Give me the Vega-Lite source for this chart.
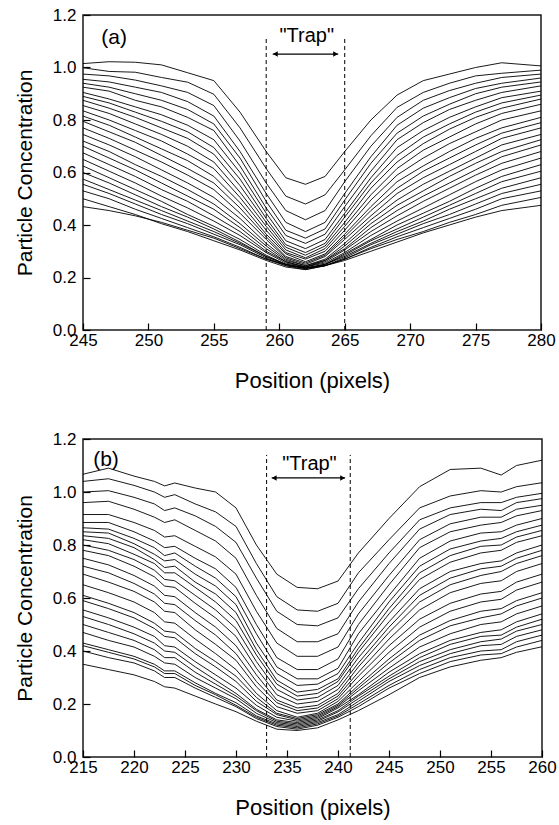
{
"$schema":"https://vega.github.io/schema/vega-lite/v6.json",
"background":"white",
"padding":{"left":13,"top":5,"right":2,"bottom":5},
"config":{"font":"Liberation Sans","view":{"stroke":"#1a1a1a","strokeWidth":1.5},
"axis":{"domain":false,"grid":false,"tickColor":"black","tickWidth":1.2,"labelColor":"black","labelFontSize":17,"labelFont":"Liberation Sans","titleFont":"Liberation Sans","titleFontSize":21,"titleFontWeight":"normal","titleColor":"black","labelFlush":false,"labelOverlap":false}},
"datasets":{
"a":[
{"c":1,"x":245,"y":1.015},{"c":1,"x":247,"y":1.022},{"c":1,"x":249,"y":1.02},{"c":1,"x":251,"y":1.01},{"c":1,"x":253,"y":0.98},{"c":1,"x":255,"y":0.95},{"c":1,"x":257,"y":0.83},{"c":1,"x":259,"y":0.68},{"c":1,"x":260.5,"y":0.58},{"c":1,"x":262,"y":0.555},{"c":1,"x":263.5,"y":0.585},{"c":1,"x":265,"y":0.68},{"c":1,"x":267,"y":0.8},{"c":1,"x":269,"y":0.895},{"c":1,"x":271,"y":0.95},{"c":1,"x":273,"y":0.975},{"c":1,"x":275,"y":1.0},{"c":1,"x":277,"y":1.018},{"c":1,"x":280,"y":1.006},
{"c":2,"x":245,"y":0.999},{"c":2,"x":247,"y":0.985},{"c":2,"x":249,"y":0.982},{"c":2,"x":251,"y":0.962},{"c":2,"x":253,"y":0.944},{"c":2,"x":255,"y":0.898},{"c":2,"x":257,"y":0.77},{"c":2,"x":259,"y":0.615},{"c":2,"x":260.5,"y":0.51},{"c":2,"x":262,"y":0.48},{"c":2,"x":263.5,"y":0.515},{"c":2,"x":265,"y":0.61},{"c":2,"x":267,"y":0.74},{"c":2,"x":269,"y":0.848},{"c":2,"x":271,"y":0.905},{"c":2,"x":273,"y":0.94},{"c":2,"x":275,"y":0.968},{"c":2,"x":277,"y":0.978},{"c":2,"x":280,"y":0.99},
{"c":3,"x":245,"y":0.975},{"c":3,"x":247,"y":0.968},{"c":3,"x":249,"y":0.952},{"c":3,"x":251,"y":0.93},{"c":3,"x":253,"y":0.905},{"c":3,"x":255,"y":0.855},{"c":3,"x":257,"y":0.72},{"c":3,"x":259,"y":0.56},{"c":3,"x":260.5,"y":0.455},{"c":3,"x":262,"y":0.42},{"c":3,"x":263.5,"y":0.455},{"c":3,"x":265,"y":0.565},{"c":3,"x":267,"y":0.7},{"c":3,"x":269,"y":0.81},{"c":3,"x":271,"y":0.875},{"c":3,"x":273,"y":0.912},{"c":3,"x":275,"y":0.94},{"c":3,"x":277,"y":0.962},{"c":3,"x":280,"y":0.975},
{"c":4,"x":245,"y":0.955},{"c":4,"x":247,"y":0.945},{"c":4,"x":249,"y":0.925},{"c":4,"x":251,"y":0.905},{"c":4,"x":253,"y":0.87},{"c":4,"x":255,"y":0.815},{"c":4,"x":257,"y":0.68},{"c":4,"x":259,"y":0.52},{"c":4,"x":260.5,"y":0.41},{"c":4,"x":262,"y":0.375},{"c":4,"x":263.5,"y":0.41},{"c":4,"x":265,"y":0.52},{"c":4,"x":267,"y":0.66},{"c":4,"x":269,"y":0.78},{"c":4,"x":271,"y":0.845},{"c":4,"x":273,"y":0.885},{"c":4,"x":275,"y":0.92},{"c":4,"x":277,"y":0.94},{"c":4,"x":280,"y":0.96},
{"c":5,"x":245,"y":0.94},{"c":5,"x":247,"y":0.925},{"c":5,"x":249,"y":0.9},{"c":5,"x":251,"y":0.875},{"c":5,"x":253,"y":0.84},{"c":5,"x":255,"y":0.785},{"c":5,"x":257,"y":0.655},{"c":5,"x":259,"y":0.49},{"c":5,"x":260.5,"y":0.38},{"c":5,"x":262,"y":0.35},{"c":5,"x":263.5,"y":0.385},{"c":5,"x":265,"y":0.495},{"c":5,"x":267,"y":0.635},{"c":5,"x":269,"y":0.75},{"c":5,"x":271,"y":0.815},{"c":5,"x":273,"y":0.86},{"c":5,"x":275,"y":0.9},{"c":5,"x":277,"y":0.925},{"c":5,"x":280,"y":0.945},
{"c":6,"x":245,"y":0.925},{"c":6,"x":247,"y":0.91},{"c":6,"x":249,"y":0.875},{"c":6,"x":251,"y":0.85},{"c":6,"x":253,"y":0.81},{"c":6,"x":255,"y":0.76},{"c":6,"x":257,"y":0.625},{"c":6,"x":259,"y":0.465},{"c":6,"x":260.5,"y":0.36},{"c":6,"x":262,"y":0.33},{"c":6,"x":263.5,"y":0.365},{"c":6,"x":265,"y":0.47},{"c":6,"x":267,"y":0.605},{"c":6,"x":269,"y":0.725},{"c":6,"x":271,"y":0.79},{"c":6,"x":273,"y":0.84},{"c":6,"x":275,"y":0.875},{"c":6,"x":277,"y":0.905},{"c":6,"x":280,"y":0.93},
{"c":7,"x":245,"y":0.905},{"c":7,"x":247,"y":0.88},{"c":7,"x":249,"y":0.85},{"c":7,"x":251,"y":0.82},{"c":7,"x":253,"y":0.78},{"c":7,"x":255,"y":0.725},{"c":7,"x":257,"y":0.6},{"c":7,"x":259,"y":0.445},{"c":7,"x":260.5,"y":0.34},{"c":7,"x":262,"y":0.31},{"c":7,"x":263.5,"y":0.345},{"c":7,"x":265,"y":0.445},{"c":7,"x":267,"y":0.58},{"c":7,"x":269,"y":0.695},{"c":7,"x":271,"y":0.76},{"c":7,"x":273,"y":0.81},{"c":7,"x":275,"y":0.85},{"c":7,"x":277,"y":0.885},{"c":7,"x":280,"y":0.91},
{"c":8,"x":245,"y":0.89},{"c":8,"x":247,"y":0.865},{"c":8,"x":249,"y":0.83},{"c":8,"x":251,"y":0.795},{"c":8,"x":253,"y":0.755},{"c":8,"x":255,"y":0.695},{"c":8,"x":257,"y":0.575},{"c":8,"x":259,"y":0.425},{"c":8,"x":260.5,"y":0.325},{"c":8,"x":262,"y":0.295},{"c":8,"x":263.5,"y":0.33},{"c":8,"x":265,"y":0.43},{"c":8,"x":267,"y":0.56},{"c":8,"x":269,"y":0.665},{"c":8,"x":271,"y":0.735},{"c":8,"x":273,"y":0.785},{"c":8,"x":275,"y":0.83},{"c":8,"x":277,"y":0.865},{"c":8,"x":280,"y":0.895},
{"c":9,"x":245,"y":0.875},{"c":9,"x":247,"y":0.845},{"c":9,"x":249,"y":0.81},{"c":9,"x":251,"y":0.77},{"c":9,"x":253,"y":0.73},{"c":9,"x":255,"y":0.67},{"c":9,"x":257,"y":0.55},{"c":9,"x":259,"y":0.41},{"c":9,"x":260.5,"y":0.315},{"c":9,"x":262,"y":0.285},{"c":9,"x":263.5,"y":0.32},{"c":9,"x":265,"y":0.41},{"c":9,"x":267,"y":0.54},{"c":9,"x":269,"y":0.64},{"c":9,"x":271,"y":0.71},{"c":9,"x":273,"y":0.765},{"c":9,"x":275,"y":0.81},{"c":9,"x":277,"y":0.845},{"c":9,"x":280,"y":0.88},
{"c":10,"x":245,"y":0.855},{"c":10,"x":247,"y":0.825},{"c":10,"x":249,"y":0.785},{"c":10,"x":251,"y":0.745},{"c":10,"x":253,"y":0.7},{"c":10,"x":255,"y":0.64},{"c":10,"x":257,"y":0.525},{"c":10,"x":259,"y":0.395},{"c":10,"x":260.5,"y":0.305},{"c":10,"x":262,"y":0.275},{"c":10,"x":263.5,"y":0.31},{"c":10,"x":265,"y":0.395},{"c":10,"x":267,"y":0.515},{"c":10,"x":269,"y":0.615},{"c":10,"x":271,"y":0.685},{"c":10,"x":273,"y":0.735},{"c":10,"x":275,"y":0.785},{"c":10,"x":277,"y":0.825},{"c":10,"x":280,"y":0.86},
{"c":11,"x":245,"y":0.835},{"c":11,"x":247,"y":0.8},{"c":11,"x":249,"y":0.76},{"c":11,"x":251,"y":0.72},{"c":11,"x":253,"y":0.67},{"c":11,"x":255,"y":0.615},{"c":11,"x":257,"y":0.505},{"c":11,"x":259,"y":0.38},{"c":11,"x":260.5,"y":0.295},{"c":11,"x":262,"y":0.27},{"c":11,"x":263.5,"y":0.3},{"c":11,"x":265,"y":0.38},{"c":11,"x":267,"y":0.495},{"c":11,"x":269,"y":0.59},{"c":11,"x":271,"y":0.655},{"c":11,"x":273,"y":0.71},{"c":11,"x":275,"y":0.755},{"c":11,"x":277,"y":0.8},{"c":11,"x":280,"y":0.835},
{"c":12,"x":245,"y":0.815},{"c":12,"x":247,"y":0.78},{"c":12,"x":249,"y":0.735},{"c":12,"x":251,"y":0.69},{"c":12,"x":253,"y":0.645},{"c":12,"x":255,"y":0.585},{"c":12,"x":257,"y":0.485},{"c":12,"x":259,"y":0.365},{"c":12,"x":260.5,"y":0.29},{"c":12,"x":262,"y":0.26},{"c":12,"x":263.5,"y":0.29},{"c":12,"x":265,"y":0.365},{"c":12,"x":267,"y":0.47},{"c":12,"x":269,"y":0.565},{"c":12,"x":271,"y":0.625},{"c":12,"x":273,"y":0.68},{"c":12,"x":275,"y":0.73},{"c":12,"x":277,"y":0.77},{"c":12,"x":280,"y":0.81},
{"c":13,"x":245,"y":0.795},{"c":13,"x":247,"y":0.755},{"c":13,"x":249,"y":0.715},{"c":13,"x":251,"y":0.665},{"c":13,"x":253,"y":0.615},{"c":13,"x":255,"y":0.56},{"c":13,"x":257,"y":0.465},{"c":13,"x":259,"y":0.355},{"c":13,"x":260.5,"y":0.28},{"c":13,"x":262,"y":0.255},{"c":13,"x":263.5,"y":0.285},{"c":13,"x":265,"y":0.355},{"c":13,"x":267,"y":0.455},{"c":13,"x":269,"y":0.54},{"c":13,"x":271,"y":0.605},{"c":13,"x":273,"y":0.655},{"c":13,"x":275,"y":0.705},{"c":13,"x":277,"y":0.75},{"c":13,"x":280,"y":0.79},
{"c":14,"x":245,"y":0.77},{"c":14,"x":247,"y":0.73},{"c":14,"x":249,"y":0.685},{"c":14,"x":251,"y":0.64},{"c":14,"x":253,"y":0.59},{"c":14,"x":255,"y":0.535},{"c":14,"x":257,"y":0.445},{"c":14,"x":259,"y":0.345},{"c":14,"x":260.5,"y":0.275},{"c":14,"x":262,"y":0.25},{"c":14,"x":263.5,"y":0.28},{"c":14,"x":265,"y":0.345},{"c":14,"x":267,"y":0.435},{"c":14,"x":269,"y":0.52},{"c":14,"x":271,"y":0.58},{"c":14,"x":273,"y":0.63},{"c":14,"x":275,"y":0.68},{"c":14,"x":277,"y":0.73},{"c":14,"x":280,"y":0.77},
{"c":15,"x":245,"y":0.745},{"c":15,"x":247,"y":0.705},{"c":15,"x":249,"y":0.66},{"c":15,"x":251,"y":0.61},{"c":15,"x":253,"y":0.56},{"c":15,"x":255,"y":0.505},{"c":15,"x":257,"y":0.425},{"c":15,"x":259,"y":0.33},{"c":15,"x":260.5,"y":0.27},{"c":15,"x":262,"y":0.245},{"c":15,"x":263.5,"y":0.27},{"c":15,"x":265,"y":0.33},{"c":15,"x":267,"y":0.42},{"c":15,"x":269,"y":0.495},{"c":15,"x":271,"y":0.555},{"c":15,"x":273,"y":0.605},{"c":15,"x":275,"y":0.655},{"c":15,"x":277,"y":0.705},{"c":15,"x":280,"y":0.745},
{"c":16,"x":245,"y":0.72},{"c":16,"x":247,"y":0.68},{"c":16,"x":249,"y":0.63},{"c":16,"x":251,"y":0.585},{"c":16,"x":253,"y":0.535},{"c":16,"x":255,"y":0.48},{"c":16,"x":257,"y":0.405},{"c":16,"x":259,"y":0.32},{"c":16,"x":260.5,"y":0.265},{"c":16,"x":262,"y":0.245},{"c":16,"x":263.5,"y":0.265},{"c":16,"x":265,"y":0.32},{"c":16,"x":267,"y":0.405},{"c":16,"x":269,"y":0.475},{"c":16,"x":271,"y":0.53},{"c":16,"x":273,"y":0.585},{"c":16,"x":275,"y":0.635},{"c":16,"x":277,"y":0.68},{"c":16,"x":280,"y":0.725},
{"c":17,"x":245,"y":0.7},{"c":17,"x":247,"y":0.655},{"c":17,"x":249,"y":0.61},{"c":17,"x":251,"y":0.56},{"c":17,"x":253,"y":0.51},{"c":17,"x":255,"y":0.46},{"c":17,"x":257,"y":0.39},{"c":17,"x":259,"y":0.31},{"c":17,"x":260.5,"y":0.26},{"c":17,"x":262,"y":0.24},{"c":17,"x":263.5,"y":0.265},{"c":17,"x":265,"y":0.31},{"c":17,"x":267,"y":0.39},{"c":17,"x":269,"y":0.455},{"c":17,"x":271,"y":0.51},{"c":17,"x":273,"y":0.56},{"c":17,"x":275,"y":0.61},{"c":17,"x":277,"y":0.66},{"c":17,"x":280,"y":0.705},
{"c":18,"x":245,"y":0.675},{"c":18,"x":247,"y":0.63},{"c":18,"x":249,"y":0.585},{"c":18,"x":251,"y":0.535},{"c":18,"x":253,"y":0.49},{"c":18,"x":255,"y":0.435},{"c":18,"x":257,"y":0.375},{"c":18,"x":259,"y":0.3},{"c":18,"x":260.5,"y":0.26},{"c":18,"x":262,"y":0.24},{"c":18,"x":263.5,"y":0.26},{"c":18,"x":265,"y":0.305},{"c":18,"x":267,"y":0.375},{"c":18,"x":269,"y":0.435},{"c":18,"x":271,"y":0.49},{"c":18,"x":273,"y":0.54},{"c":18,"x":275,"y":0.59},{"c":18,"x":277,"y":0.635},{"c":18,"x":280,"y":0.68},
{"c":19,"x":245,"y":0.65},{"c":19,"x":247,"y":0.605},{"c":19,"x":249,"y":0.56},{"c":19,"x":251,"y":0.51},{"c":19,"x":253,"y":0.465},{"c":19,"x":255,"y":0.415},{"c":19,"x":257,"y":0.36},{"c":19,"x":259,"y":0.295},{"c":19,"x":260.5,"y":0.255},{"c":19,"x":262,"y":0.24},{"c":19,"x":263.5,"y":0.255},{"c":19,"x":265,"y":0.295},{"c":19,"x":267,"y":0.36},{"c":19,"x":269,"y":0.415},{"c":19,"x":271,"y":0.465},{"c":19,"x":273,"y":0.515},{"c":19,"x":275,"y":0.565},{"c":19,"x":277,"y":0.61},{"c":19,"x":280,"y":0.655},
{"c":20,"x":245,"y":0.625},{"c":20,"x":247,"y":0.58},{"c":20,"x":249,"y":0.535},{"c":20,"x":251,"y":0.49},{"c":20,"x":253,"y":0.44},{"c":20,"x":255,"y":0.395},{"c":20,"x":257,"y":0.345},{"c":20,"x":259,"y":0.285},{"c":20,"x":260.5,"y":0.25},{"c":20,"x":262,"y":0.235},{"c":20,"x":263.5,"y":0.25},{"c":20,"x":265,"y":0.29},{"c":20,"x":267,"y":0.345},{"c":20,"x":269,"y":0.4},{"c":20,"x":271,"y":0.445},{"c":20,"x":273,"y":0.49},{"c":20,"x":275,"y":0.54},{"c":20,"x":277,"y":0.585},{"c":20,"x":280,"y":0.63},
{"c":21,"x":245,"y":0.6},{"c":21,"x":247,"y":0.56},{"c":21,"x":249,"y":0.515},{"c":21,"x":251,"y":0.47},{"c":21,"x":253,"y":0.43},{"c":21,"x":255,"y":0.385},{"c":21,"x":257,"y":0.335},{"c":21,"x":259,"y":0.28},{"c":21,"x":260.5,"y":0.25},{"c":21,"x":262,"y":0.235},{"c":21,"x":263.5,"y":0.25},{"c":21,"x":265,"y":0.285},{"c":21,"x":267,"y":0.34},{"c":21,"x":269,"y":0.385},{"c":21,"x":271,"y":0.43},{"c":21,"x":273,"y":0.475},{"c":21,"x":275,"y":0.52},{"c":21,"x":277,"y":0.565},{"c":21,"x":280,"y":0.605},
{"c":22,"x":245,"y":0.575},{"c":22,"x":247,"y":0.535},{"c":22,"x":249,"y":0.495},{"c":22,"x":251,"y":0.455},{"c":22,"x":253,"y":0.415},{"c":22,"x":255,"y":0.375},{"c":22,"x":257,"y":0.33},{"c":22,"x":259,"y":0.28},{"c":22,"x":260.5,"y":0.25},{"c":22,"x":262,"y":0.235},{"c":22,"x":263.5,"y":0.25},{"c":22,"x":265,"y":0.28},{"c":22,"x":267,"y":0.33},{"c":22,"x":269,"y":0.375},{"c":22,"x":271,"y":0.415},{"c":22,"x":273,"y":0.46},{"c":22,"x":275,"y":0.5},{"c":22,"x":277,"y":0.54},{"c":22,"x":280,"y":0.58},
{"c":23,"x":245,"y":0.555},{"c":23,"x":247,"y":0.52},{"c":23,"x":249,"y":0.48},{"c":23,"x":251,"y":0.44},{"c":23,"x":253,"y":0.405},{"c":23,"x":255,"y":0.365},{"c":23,"x":257,"y":0.325},{"c":23,"x":259,"y":0.275},{"c":23,"x":260.5,"y":0.245},{"c":23,"x":262,"y":0.235},{"c":23,"x":263.5,"y":0.245},{"c":23,"x":265,"y":0.275},{"c":23,"x":267,"y":0.325},{"c":23,"x":269,"y":0.365},{"c":23,"x":271,"y":0.405},{"c":23,"x":273,"y":0.44},{"c":23,"x":275,"y":0.48},{"c":23,"x":277,"y":0.52},{"c":23,"x":280,"y":0.555},
{"c":24,"x":245,"y":0.53},{"c":24,"x":247,"y":0.5},{"c":24,"x":249,"y":0.46},{"c":24,"x":251,"y":0.425},{"c":24,"x":253,"y":0.39},{"c":24,"x":255,"y":0.355},{"c":24,"x":257,"y":0.315},{"c":24,"x":259,"y":0.27},{"c":24,"x":260.5,"y":0.245},{"c":24,"x":262,"y":0.23},{"c":24,"x":263.5,"y":0.245},{"c":24,"x":265,"y":0.27},{"c":24,"x":267,"y":0.315},{"c":24,"x":269,"y":0.355},{"c":24,"x":271,"y":0.39},{"c":24,"x":273,"y":0.425},{"c":24,"x":275,"y":0.46},{"c":24,"x":277,"y":0.5},{"c":24,"x":280,"y":0.53},
{"c":25,"x":245,"y":0.5},{"c":25,"x":247,"y":0.47},{"c":25,"x":249,"y":0.44},{"c":25,"x":251,"y":0.405},{"c":25,"x":253,"y":0.375},{"c":25,"x":255,"y":0.34},{"c":25,"x":257,"y":0.305},{"c":25,"x":259,"y":0.265},{"c":25,"x":260.5,"y":0.24},{"c":25,"x":262,"y":0.23},{"c":25,"x":263.5,"y":0.245},{"c":25,"x":265,"y":0.27},{"c":25,"x":267,"y":0.31},{"c":25,"x":269,"y":0.345},{"c":25,"x":271,"y":0.375},{"c":25,"x":273,"y":0.41},{"c":25,"x":275,"y":0.44},{"c":25,"x":277,"y":0.475},{"c":25,"x":280,"y":0.505},
{"c":26,"x":245,"y":0.47},{"c":26,"x":247,"y":0.455},{"c":26,"x":249,"y":0.435},{"c":26,"x":251,"y":0.41},{"c":26,"x":253,"y":0.38},{"c":26,"x":255,"y":0.35},{"c":26,"x":257,"y":0.31},{"c":26,"x":259,"y":0.27},{"c":26,"x":260.5,"y":0.25},{"c":26,"x":262,"y":0.238},{"c":26,"x":263.5,"y":0.245},{"c":26,"x":265,"y":0.265},{"c":26,"x":267,"y":0.3},{"c":26,"x":269,"y":0.335},{"c":26,"x":271,"y":0.37},{"c":26,"x":273,"y":0.4},{"c":26,"x":275,"y":0.43},{"c":26,"x":277,"y":0.455},{"c":26,"x":280,"y":0.475}
],
"b":[
{"c":1,"x":215,"y":1.067},{"c":1,"x":217.5,"y":1.09},{"c":1,"x":220,"y":1.06},{"c":1,"x":222,"y":1.04},{"c":1,"x":223,"y":1.023},{"c":1,"x":224,"y":1.034},{"c":1,"x":226,"y":1.015},{"c":1,"x":228,"y":1.0},{"c":1,"x":230,"y":0.94},{"c":1,"x":232,"y":0.8},{"c":1,"x":234,"y":0.69},{"c":1,"x":236,"y":0.64},{"c":1,"x":238,"y":0.635},{"c":1,"x":240,"y":0.664},{"c":1,"x":242,"y":0.77},{"c":1,"x":245,"y":0.9},{"c":1,"x":248,"y":1.02},{"c":1,"x":251,"y":1.085},{"c":1,"x":254,"y":1.09},{"c":1,"x":256,"y":1.064},{"c":1,"x":257.5,"y":1.1},{"c":1,"x":260,"y":1.12},
{"c":2,"x":215,"y":1.04},{"c":2,"x":217.5,"y":1.05},{"c":2,"x":220,"y":1.025},{"c":2,"x":222,"y":1.0},{"c":2,"x":223,"y":0.98},{"c":2,"x":224,"y":0.99},{"c":2,"x":226,"y":0.955},{"c":2,"x":228,"y":0.925},{"c":2,"x":230,"y":0.87},{"c":2,"x":232,"y":0.73},{"c":2,"x":234,"y":0.605},{"c":2,"x":236,"y":0.555},{"c":2,"x":238,"y":0.55},{"c":2,"x":240,"y":0.58},{"c":2,"x":242,"y":0.695},{"c":2,"x":245,"y":0.82},{"c":2,"x":248,"y":0.94},{"c":2,"x":251,"y":0.985},{"c":2,"x":254,"y":1.005},{"c":2,"x":256,"y":1.0},{"c":2,"x":257.5,"y":1.02},{"c":2,"x":260,"y":1.035},
{"c":3,"x":215,"y":1.0},{"c":3,"x":217.5,"y":1.005},{"c":3,"x":220,"y":0.98},{"c":3,"x":222,"y":0.955},{"c":3,"x":223,"y":0.93},{"c":3,"x":224,"y":0.94},{"c":3,"x":226,"y":0.91},{"c":3,"x":228,"y":0.87},{"c":3,"x":230,"y":0.81},{"c":3,"x":232,"y":0.675},{"c":3,"x":234,"y":0.55},{"c":3,"x":236,"y":0.5},{"c":3,"x":238,"y":0.495},{"c":3,"x":240,"y":0.525},{"c":3,"x":242,"y":0.635},{"c":3,"x":245,"y":0.77},{"c":3,"x":248,"y":0.895},{"c":3,"x":251,"y":0.94},{"c":3,"x":254,"y":0.96},{"c":3,"x":256,"y":0.96},{"c":3,"x":257.5,"y":0.98},{"c":3,"x":260,"y":0.995},
{"c":4,"x":215,"y":0.96},{"c":4,"x":217.5,"y":0.965},{"c":4,"x":220,"y":0.935},{"c":4,"x":222,"y":0.905},{"c":4,"x":223,"y":0.885},{"c":4,"x":224,"y":0.895},{"c":4,"x":226,"y":0.855},{"c":4,"x":228,"y":0.815},{"c":4,"x":230,"y":0.75},{"c":4,"x":232,"y":0.61},{"c":4,"x":234,"y":0.485},{"c":4,"x":236,"y":0.435},{"c":4,"x":238,"y":0.435},{"c":4,"x":240,"y":0.465},{"c":4,"x":242,"y":0.585},{"c":4,"x":245,"y":0.73},{"c":4,"x":248,"y":0.86},{"c":4,"x":251,"y":0.915},{"c":4,"x":254,"y":0.935},{"c":4,"x":256,"y":0.93},{"c":4,"x":257.5,"y":0.96},{"c":4,"x":260,"y":0.975},
{"c":5,"x":215,"y":0.915},{"c":5,"x":217.5,"y":0.915},{"c":5,"x":220,"y":0.885},{"c":5,"x":222,"y":0.855},{"c":5,"x":223,"y":0.83},{"c":5,"x":224,"y":0.835},{"c":5,"x":226,"y":0.795},{"c":5,"x":228,"y":0.755},{"c":5,"x":230,"y":0.69},{"c":5,"x":232,"y":0.55},{"c":5,"x":234,"y":0.43},{"c":5,"x":236,"y":0.38},{"c":5,"x":238,"y":0.38},{"c":5,"x":240,"y":0.415},{"c":5,"x":242,"y":0.54},{"c":5,"x":245,"y":0.685},{"c":5,"x":248,"y":0.82},{"c":5,"x":251,"y":0.88},{"c":5,"x":254,"y":0.905},{"c":5,"x":256,"y":0.905},{"c":5,"x":257.5,"y":0.935},{"c":5,"x":260,"y":0.95},
{"c":6,"x":215,"y":0.885},{"c":6,"x":217.5,"y":0.885},{"c":6,"x":220,"y":0.85},{"c":6,"x":222,"y":0.815},{"c":6,"x":223,"y":0.79},{"c":6,"x":224,"y":0.795},{"c":6,"x":226,"y":0.75},{"c":6,"x":228,"y":0.71},{"c":6,"x":230,"y":0.64},{"c":6,"x":232,"y":0.5},{"c":6,"x":234,"y":0.375},{"c":6,"x":236,"y":0.33},{"c":6,"x":238,"y":0.33},{"c":6,"x":240,"y":0.37},{"c":6,"x":242,"y":0.5},{"c":6,"x":245,"y":0.65},{"c":6,"x":248,"y":0.79},{"c":6,"x":251,"y":0.85},{"c":6,"x":254,"y":0.875},{"c":6,"x":256,"y":0.885},{"c":6,"x":257.5,"y":0.91},{"c":6,"x":260,"y":0.93},
{"c":7,"x":215,"y":0.865},{"c":7,"x":217.5,"y":0.86},{"c":7,"x":220,"y":0.825},{"c":7,"x":222,"y":0.79},{"c":7,"x":223,"y":0.76},{"c":7,"x":224,"y":0.77},{"c":7,"x":226,"y":0.72},{"c":7,"x":228,"y":0.675},{"c":7,"x":230,"y":0.605},{"c":7,"x":232,"y":0.465},{"c":7,"x":234,"y":0.34},{"c":7,"x":236,"y":0.295},{"c":7,"x":238,"y":0.295},{"c":7,"x":240,"y":0.335},{"c":7,"x":242,"y":0.465},{"c":7,"x":245,"y":0.61},{"c":7,"x":248,"y":0.75},{"c":7,"x":251,"y":0.815},{"c":7,"x":254,"y":0.845},{"c":7,"x":256,"y":0.85},{"c":7,"x":257.5,"y":0.875},{"c":7,"x":260,"y":0.9},
{"c":8,"x":215,"y":0.85},{"c":8,"x":217.5,"y":0.845},{"c":8,"x":220,"y":0.805},{"c":8,"x":222,"y":0.765},{"c":8,"x":223,"y":0.74},{"c":8,"x":224,"y":0.745},{"c":8,"x":226,"y":0.69},{"c":8,"x":228,"y":0.645},{"c":8,"x":230,"y":0.575},{"c":8,"x":232,"y":0.43},{"c":8,"x":234,"y":0.315},{"c":8,"x":236,"y":0.27},{"c":8,"x":238,"y":0.275},{"c":8,"x":240,"y":0.315},{"c":8,"x":242,"y":0.43},{"c":8,"x":245,"y":0.585},{"c":8,"x":248,"y":0.72},{"c":8,"x":251,"y":0.785},{"c":8,"x":254,"y":0.815},{"c":8,"x":256,"y":0.825},{"c":8,"x":257.5,"y":0.85},{"c":8,"x":260,"y":0.875},
{"c":9,"x":215,"y":0.835},{"c":9,"x":217.5,"y":0.825},{"c":9,"x":220,"y":0.79},{"c":9,"x":222,"y":0.745},{"c":9,"x":223,"y":0.715},{"c":9,"x":224,"y":0.72},{"c":9,"x":226,"y":0.66},{"c":9,"x":228,"y":0.615},{"c":9,"x":230,"y":0.545},{"c":9,"x":232,"y":0.405},{"c":9,"x":234,"y":0.29},{"c":9,"x":236,"y":0.245},{"c":9,"x":238,"y":0.255},{"c":9,"x":240,"y":0.295},{"c":9,"x":242,"y":0.41},{"c":9,"x":245,"y":0.56},{"c":9,"x":248,"y":0.695},{"c":9,"x":251,"y":0.76},{"c":9,"x":254,"y":0.795},{"c":9,"x":256,"y":0.8},{"c":9,"x":257.5,"y":0.83},{"c":9,"x":260,"y":0.855},
{"c":10,"x":215,"y":0.82},{"c":10,"x":217.5,"y":0.805},{"c":10,"x":220,"y":0.765},{"c":10,"x":222,"y":0.73},{"c":10,"x":223,"y":0.695},{"c":10,"x":224,"y":0.695},{"c":10,"x":226,"y":0.64},{"c":10,"x":228,"y":0.585},{"c":10,"x":230,"y":0.515},{"c":10,"x":232,"y":0.385},{"c":10,"x":234,"y":0.275},{"c":10,"x":236,"y":0.23},{"c":10,"x":238,"y":0.24},{"c":10,"x":240,"y":0.285},{"c":10,"x":242,"y":0.395},{"c":10,"x":245,"y":0.54},{"c":10,"x":248,"y":0.67},{"c":10,"x":251,"y":0.735},{"c":10,"x":254,"y":0.77},{"c":10,"x":256,"y":0.78},{"c":10,"x":257.5,"y":0.81},{"c":10,"x":260,"y":0.835},
{"c":11,"x":215,"y":0.8},{"c":11,"x":217.5,"y":0.78},{"c":11,"x":220,"y":0.745},{"c":11,"x":222,"y":0.705},{"c":11,"x":223,"y":0.67},{"c":11,"x":224,"y":0.665},{"c":11,"x":226,"y":0.61},{"c":11,"x":228,"y":0.555},{"c":11,"x":230,"y":0.485},{"c":11,"x":232,"y":0.36},{"c":11,"x":234,"y":0.255},{"c":11,"x":236,"y":0.215},{"c":11,"x":238,"y":0.225},{"c":11,"x":240,"y":0.27},{"c":11,"x":242,"y":0.375},{"c":11,"x":245,"y":0.51},{"c":11,"x":248,"y":0.635},{"c":11,"x":251,"y":0.7},{"c":11,"x":254,"y":0.73},{"c":11,"x":256,"y":0.74},{"c":11,"x":257.5,"y":0.77},{"c":11,"x":260,"y":0.8},
{"c":12,"x":215,"y":0.78},{"c":12,"x":217.5,"y":0.76},{"c":12,"x":220,"y":0.72},{"c":12,"x":222,"y":0.68},{"c":12,"x":223,"y":0.645},{"c":12,"x":224,"y":0.64},{"c":12,"x":226,"y":0.58},{"c":12,"x":228,"y":0.525},{"c":12,"x":230,"y":0.455},{"c":12,"x":232,"y":0.335},{"c":12,"x":234,"y":0.235},{"c":12,"x":236,"y":0.2},{"c":12,"x":238,"y":0.21},{"c":12,"x":240,"y":0.255},{"c":12,"x":242,"y":0.355},{"c":12,"x":245,"y":0.49},{"c":12,"x":248,"y":0.61},{"c":12,"x":251,"y":0.675},{"c":12,"x":254,"y":0.71},{"c":12,"x":256,"y":0.72},{"c":12,"x":257.5,"y":0.75},{"c":12,"x":260,"y":0.78},
{"c":13,"x":215,"y":0.75},{"c":13,"x":217.5,"y":0.725},{"c":13,"x":220,"y":0.685},{"c":13,"x":222,"y":0.645},{"c":13,"x":223,"y":0.61},{"c":13,"x":224,"y":0.605},{"c":13,"x":226,"y":0.545},{"c":13,"x":228,"y":0.49},{"c":13,"x":230,"y":0.42},{"c":13,"x":232,"y":0.31},{"c":13,"x":234,"y":0.215},{"c":13,"x":236,"y":0.185},{"c":13,"x":238,"y":0.195},{"c":13,"x":240,"y":0.24},{"c":13,"x":242,"y":0.34},{"c":13,"x":245,"y":0.47},{"c":13,"x":248,"y":0.585},{"c":13,"x":251,"y":0.65},{"c":13,"x":254,"y":0.685},{"c":13,"x":256,"y":0.7},{"c":13,"x":257.5,"y":0.73},{"c":13,"x":260,"y":0.76},
{"c":14,"x":215,"y":0.72},{"c":14,"x":217.5,"y":0.695},{"c":14,"x":220,"y":0.655},{"c":14,"x":222,"y":0.615},{"c":14,"x":223,"y":0.58},{"c":14,"x":224,"y":0.575},{"c":14,"x":226,"y":0.515},{"c":14,"x":228,"y":0.46},{"c":14,"x":230,"y":0.39},{"c":14,"x":232,"y":0.285},{"c":14,"x":234,"y":0.205},{"c":14,"x":236,"y":0.175},{"c":14,"x":238,"y":0.185},{"c":14,"x":240,"y":0.23},{"c":14,"x":242,"y":0.32},{"c":14,"x":245,"y":0.445},{"c":14,"x":248,"y":0.555},{"c":14,"x":251,"y":0.62},{"c":14,"x":254,"y":0.655},{"c":14,"x":256,"y":0.665},{"c":14,"x":257.5,"y":0.7},{"c":14,"x":260,"y":0.73},
{"c":15,"x":215,"y":0.69},{"c":15,"x":217.5,"y":0.66},{"c":15,"x":220,"y":0.625},{"c":15,"x":222,"y":0.585},{"c":15,"x":223,"y":0.55},{"c":15,"x":224,"y":0.545},{"c":15,"x":226,"y":0.48},{"c":15,"x":228,"y":0.425},{"c":15,"x":230,"y":0.365},{"c":15,"x":232,"y":0.265},{"c":15,"x":234,"y":0.19},{"c":15,"x":236,"y":0.165},{"c":15,"x":238,"y":0.175},{"c":15,"x":240,"y":0.22},{"c":15,"x":242,"y":0.305},{"c":15,"x":245,"y":0.42},{"c":15,"x":248,"y":0.52},{"c":15,"x":251,"y":0.58},{"c":15,"x":254,"y":0.615},{"c":15,"x":256,"y":0.625},{"c":15,"x":257.5,"y":0.66},{"c":15,"x":260,"y":0.69},
{"c":16,"x":215,"y":0.65},{"c":16,"x":217.5,"y":0.62},{"c":16,"x":220,"y":0.585},{"c":16,"x":222,"y":0.545},{"c":16,"x":223,"y":0.51},{"c":16,"x":224,"y":0.505},{"c":16,"x":226,"y":0.445},{"c":16,"x":228,"y":0.39},{"c":16,"x":230,"y":0.33},{"c":16,"x":232,"y":0.24},{"c":16,"x":234,"y":0.175},{"c":16,"x":236,"y":0.15},{"c":16,"x":238,"y":0.165},{"c":16,"x":240,"y":0.21},{"c":16,"x":242,"y":0.285},{"c":16,"x":245,"y":0.395},{"c":16,"x":248,"y":0.49},{"c":16,"x":251,"y":0.55},{"c":16,"x":254,"y":0.585},{"c":16,"x":256,"y":0.595},{"c":16,"x":257.5,"y":0.63},{"c":16,"x":260,"y":0.66},
{"c":17,"x":215,"y":0.61},{"c":17,"x":217.5,"y":0.58},{"c":17,"x":220,"y":0.545},{"c":17,"x":222,"y":0.505},{"c":17,"x":223,"y":0.475},{"c":17,"x":224,"y":0.47},{"c":17,"x":226,"y":0.41},{"c":17,"x":228,"y":0.36},{"c":17,"x":230,"y":0.305},{"c":17,"x":232,"y":0.225},{"c":17,"x":234,"y":0.165},{"c":17,"x":236,"y":0.145},{"c":17,"x":238,"y":0.16},{"c":17,"x":240,"y":0.2},{"c":17,"x":242,"y":0.27},{"c":17,"x":245,"y":0.37},{"c":17,"x":248,"y":0.46},{"c":17,"x":251,"y":0.515},{"c":17,"x":254,"y":0.55},{"c":17,"x":256,"y":0.56},{"c":17,"x":257.5,"y":0.59},{"c":17,"x":260,"y":0.62},
{"c":18,"x":215,"y":0.59},{"c":18,"x":217.5,"y":0.56},{"c":18,"x":220,"y":0.525},{"c":18,"x":222,"y":0.485},{"c":18,"x":223,"y":0.455},{"c":18,"x":224,"y":0.45},{"c":18,"x":226,"y":0.39},{"c":18,"x":228,"y":0.34},{"c":18,"x":230,"y":0.285},{"c":18,"x":232,"y":0.21},{"c":18,"x":234,"y":0.16},{"c":18,"x":236,"y":0.14},{"c":18,"x":238,"y":0.155},{"c":18,"x":240,"y":0.195},{"c":18,"x":242,"y":0.26},{"c":18,"x":245,"y":0.355},{"c":18,"x":248,"y":0.44},{"c":18,"x":251,"y":0.495},{"c":18,"x":254,"y":0.525},{"c":18,"x":256,"y":0.54},{"c":18,"x":257.5,"y":0.57},{"c":18,"x":260,"y":0.6},
{"c":19,"x":215,"y":0.555},{"c":19,"x":217.5,"y":0.525},{"c":19,"x":220,"y":0.49},{"c":19,"x":222,"y":0.455},{"c":19,"x":223,"y":0.42},{"c":19,"x":224,"y":0.415},{"c":19,"x":226,"y":0.36},{"c":19,"x":228,"y":0.31},{"c":19,"x":230,"y":0.26},{"c":19,"x":232,"y":0.195},{"c":19,"x":234,"y":0.15},{"c":19,"x":236,"y":0.135},{"c":19,"x":238,"y":0.15},{"c":19,"x":240,"y":0.19},{"c":19,"x":242,"y":0.25},{"c":19,"x":245,"y":0.335},{"c":19,"x":248,"y":0.415},{"c":19,"x":251,"y":0.465},{"c":19,"x":254,"y":0.5},{"c":19,"x":256,"y":0.51},{"c":19,"x":257.5,"y":0.54},{"c":19,"x":260,"y":0.57},
{"c":20,"x":215,"y":0.53},{"c":20,"x":217.5,"y":0.5},{"c":20,"x":220,"y":0.465},{"c":20,"x":222,"y":0.43},{"c":20,"x":223,"y":0.4},{"c":20,"x":224,"y":0.395},{"c":20,"x":226,"y":0.34},{"c":20,"x":228,"y":0.29},{"c":20,"x":230,"y":0.24},{"c":20,"x":232,"y":0.18},{"c":20,"x":234,"y":0.14},{"c":20,"x":236,"y":0.13},{"c":20,"x":238,"y":0.145},{"c":20,"x":240,"y":0.185},{"c":20,"x":242,"y":0.235},{"c":20,"x":245,"y":0.32},{"c":20,"x":248,"y":0.39},{"c":20,"x":251,"y":0.44},{"c":20,"x":254,"y":0.47},{"c":20,"x":256,"y":0.48},{"c":20,"x":257.5,"y":0.51},{"c":20,"x":260,"y":0.54},
{"c":21,"x":215,"y":0.5},{"c":21,"x":217.5,"y":0.47},{"c":21,"x":220,"y":0.44},{"c":21,"x":222,"y":0.405},{"c":21,"x":223,"y":0.375},{"c":21,"x":224,"y":0.375},{"c":21,"x":226,"y":0.32},{"c":21,"x":228,"y":0.275},{"c":21,"x":230,"y":0.23},{"c":21,"x":232,"y":0.175},{"c":21,"x":234,"y":0.135},{"c":21,"x":236,"y":0.125},{"c":21,"x":238,"y":0.14},{"c":21,"x":240,"y":0.175},{"c":21,"x":242,"y":0.23},{"c":21,"x":245,"y":0.305},{"c":21,"x":248,"y":0.375},{"c":21,"x":251,"y":0.425},{"c":21,"x":254,"y":0.455},{"c":21,"x":256,"y":0.46},{"c":21,"x":257.5,"y":0.49},{"c":21,"x":260,"y":0.52},
{"c":22,"x":215,"y":0.47},{"c":22,"x":217.5,"y":0.44},{"c":22,"x":220,"y":0.415},{"c":22,"x":222,"y":0.38},{"c":22,"x":223,"y":0.355},{"c":22,"x":224,"y":0.35},{"c":22,"x":226,"y":0.3},{"c":22,"x":228,"y":0.26},{"c":22,"x":230,"y":0.22},{"c":22,"x":232,"y":0.165},{"c":22,"x":234,"y":0.13},{"c":22,"x":236,"y":0.12},{"c":22,"x":238,"y":0.135},{"c":22,"x":240,"y":0.17},{"c":22,"x":242,"y":0.22},{"c":22,"x":245,"y":0.295},{"c":22,"x":248,"y":0.36},{"c":22,"x":251,"y":0.405},{"c":22,"x":254,"y":0.435},{"c":22,"x":256,"y":0.445},{"c":22,"x":257.5,"y":0.475},{"c":22,"x":260,"y":0.5},
{"c":23,"x":215,"y":0.43},{"c":23,"x":217.5,"y":0.405},{"c":23,"x":220,"y":0.38},{"c":23,"x":222,"y":0.35},{"c":23,"x":223,"y":0.325},{"c":23,"x":224,"y":0.325},{"c":23,"x":226,"y":0.28},{"c":23,"x":228,"y":0.24},{"c":23,"x":230,"y":0.205},{"c":23,"x":232,"y":0.155},{"c":23,"x":234,"y":0.125},{"c":23,"x":236,"y":0.115},{"c":23,"x":238,"y":0.13},{"c":23,"x":240,"y":0.16},{"c":23,"x":242,"y":0.21},{"c":23,"x":245,"y":0.285},{"c":23,"x":248,"y":0.345},{"c":23,"x":251,"y":0.39},{"c":23,"x":254,"y":0.42},{"c":23,"x":256,"y":0.425},{"c":23,"x":257.5,"y":0.455},{"c":23,"x":260,"y":0.48},
{"c":24,"x":215,"y":0.42},{"c":24,"x":217.5,"y":0.395},{"c":24,"x":220,"y":0.37},{"c":24,"x":222,"y":0.34},{"c":24,"x":223,"y":0.315},{"c":24,"x":224,"y":0.315},{"c":24,"x":226,"y":0.27},{"c":24,"x":228,"y":0.235},{"c":24,"x":230,"y":0.195},{"c":24,"x":232,"y":0.15},{"c":24,"x":234,"y":0.12},{"c":24,"x":236,"y":0.11},{"c":24,"x":238,"y":0.125},{"c":24,"x":240,"y":0.155},{"c":24,"x":242,"y":0.2},{"c":24,"x":245,"y":0.27},{"c":24,"x":248,"y":0.33},{"c":24,"x":251,"y":0.375},{"c":24,"x":254,"y":0.4},{"c":24,"x":256,"y":0.405},{"c":24,"x":257.5,"y":0.435},{"c":24,"x":260,"y":0.46},
{"c":25,"x":215,"y":0.4},{"c":25,"x":217.5,"y":0.375},{"c":25,"x":220,"y":0.355},{"c":25,"x":222,"y":0.325},{"c":25,"x":223,"y":0.3},{"c":25,"x":224,"y":0.3},{"c":25,"x":226,"y":0.26},{"c":25,"x":228,"y":0.225},{"c":25,"x":230,"y":0.19},{"c":25,"x":232,"y":0.145},{"c":25,"x":234,"y":0.115},{"c":25,"x":236,"y":0.105},{"c":25,"x":238,"y":0.12},{"c":25,"x":240,"y":0.15},{"c":25,"x":242,"y":0.19},{"c":25,"x":245,"y":0.26},{"c":25,"x":248,"y":0.315},{"c":25,"x":251,"y":0.36},{"c":25,"x":254,"y":0.385},{"c":25,"x":256,"y":0.39},{"c":25,"x":257.5,"y":0.415},{"c":25,"x":260,"y":0.44},
{"c":26,"x":215,"y":0.35},{"c":26,"x":217.5,"y":0.33},{"c":26,"x":220,"y":0.31},{"c":26,"x":222,"y":0.285},{"c":26,"x":223,"y":0.265},{"c":26,"x":224,"y":0.26},{"c":26,"x":226,"y":0.23},{"c":26,"x":228,"y":0.2},{"c":26,"x":230,"y":0.171},{"c":26,"x":232,"y":0.135},{"c":26,"x":234,"y":0.105},{"c":26,"x":236,"y":0.1},{"c":26,"x":238,"y":0.11},{"c":26,"x":240,"y":0.14},{"c":26,"x":242,"y":0.175},{"c":26,"x":245,"y":0.235},{"c":26,"x":248,"y":0.3},{"c":26,"x":251,"y":0.34},{"c":26,"x":254,"y":0.365},{"c":26,"x":256,"y":0.375},{"c":26,"x":257.5,"y":0.395},{"c":26,"x":260,"y":0.416}
]},
"spacing":37,
"vconcat":[
{"width":458,"height":315,
"layer":[
{"data":{"name":"a"},"mark":{"type":"line","color":"black","strokeWidth":0.9},
"encoding":{
"x":{"field":"x","type":"quantitative","scale":{"domain":[245,280],"nice":false,"zero":false},
"axis":{"title":"Position (pixels)","titleFontSize":22,"values":[245,247.5,250,252.5,255,257.5,260,262.5,265,267.5,270,272.5,275,277.5,280],"labelExpr":"datum.value % 5 === 0 ? format(datum.value, 'd') : ''","tickSize":{"condition":{"test":"datum.value % 5 === 0","value":-7},"value":-4},"labelPadding":9,"titlePadding":22}},
"y":{"field":"y","type":"quantitative","scale":{"domain":[0,1.2],"nice":false},
"axis":{"title":"Particle Concentration","values":[0,0.1,0.2,0.3,0.4,0.5,0.6,0.7,0.8,0.9,1.0,1.1,1.2],"labelExpr":"round(datum.value*10) % 2 === 0 ? format(datum.value, '.1f') : ''","tickSize":{"condition":{"test":"round(datum.value*10) % 2 === 0","value":-7},"value":-4},"labelPadding":14,"titlePadding":17}},
"detail":{"field":"c","type":"nominal"}}},
{"data":{"values":[{"x":259,"y":0,"y2":1.11},{"x":265,"y":0,"y2":1.11}]},"mark":{"type":"rule","color":"black","strokeWidth":1,"strokeDash":[4,3]},
"encoding":{"x":{"field":"x","type":"quantitative"},"y":{"field":"y","type":"quantitative"},"y2":{"field":"y2"}}},
{"data":{"values":[{"x":259.5,"x2":264.5,"y":1.051}]},"mark":{"type":"rule","color":"black","strokeWidth":1.2},
"encoding":{"x":{"field":"x","type":"quantitative"},"x2":{"field":"x2"},"y":{"field":"y","type":"quantitative"}}},
{"data":{"values":[{"x":259.7,"y":1.051}]},"mark":{"type":"point","shape":"triangle-left","filled":true,"color":"black","size":30,"opacity":1},
"encoding":{"x":{"field":"x","type":"quantitative"},"y":{"field":"y","type":"quantitative"}}},
{"data":{"values":[{"x":264.3,"y":1.051}]},"mark":{"type":"point","shape":"triangle-right","filled":true,"color":"black","size":30,"opacity":1},
"encoding":{"x":{"field":"x","type":"quantitative"},"y":{"field":"y","type":"quantitative"}}},
{"data":{"values":[{"x":262.1,"y":1.097,"t":"\"Trap\""}]},"mark":{"type":"text","align":"center","baseline":"alphabetic","fontSize":20,"font":"Liberation Sans","color":"black"},
"encoding":{"x":{"field":"x","type":"quantitative"},"y":{"field":"y","type":"quantitative"},"text":{"field":"t"}}},
{"data":{"values":[{"x":246.4,"y":1.091,"t":"(a)"}]},"mark":{"type":"text","align":"left","baseline":"alphabetic","fontSize":21,"font":"Liberation Sans","color":"black"},
"encoding":{"x":{"field":"x","type":"quantitative"},"y":{"field":"y","type":"quantitative"},"text":{"field":"t"}}}
]},
{"width":459,"height":318,
"layer":[
{"data":{"name":"b"},"mark":{"type":"line","color":"black","strokeWidth":0.9},
"encoding":{
"x":{"field":"x","type":"quantitative","scale":{"domain":[215,260],"nice":false,"zero":false},
"axis":{"title":"Position (pixels)","titleFontSize":22,"values":[215,217.5,220,222.5,225,227.5,230,232.5,235,237.5,240,242.5,245,247.5,250,252.5,255,257.5,260],"labelExpr":"datum.value % 5 === 0 ? format(datum.value, 'd') : ''","tickSize":{"condition":{"test":"datum.value % 5 === 0","value":-7},"value":-4},"labelPadding":9,"titlePadding":22}},
"y":{"field":"y","type":"quantitative","scale":{"domain":[0,1.2],"nice":false},
"axis":{"title":"Particle Concentration","values":[0,0.1,0.2,0.3,0.4,0.5,0.6,0.7,0.8,0.9,1.0,1.1,1.2],"labelExpr":"round(datum.value*10) % 2 === 0 ? format(datum.value, '.1f') : ''","tickSize":{"condition":{"test":"round(datum.value*10) % 2 === 0","value":-7},"value":-4},"labelPadding":14,"titlePadding":17}},
"detail":{"field":"c","type":"nominal"}}},
{"data":{"values":[{"x":233.0,"y":0,"y2":1.14},{"x":241.2,"y":0,"y2":1.14}]},"mark":{"type":"rule","color":"black","strokeWidth":1,"strokeDash":[4,3]},
"encoding":{"x":{"field":"x","type":"quantitative"},"y":{"field":"y","type":"quantitative"},"y2":{"field":"y2"}}},
{"data":{"values":[{"x":233.5,"x2":240.7,"y":1.053}]},"mark":{"type":"rule","color":"black","strokeWidth":1.2},
"encoding":{"x":{"field":"x","type":"quantitative"},"x2":{"field":"x2"},"y":{"field":"y","type":"quantitative"}}},
{"data":{"values":[{"x":233.75,"y":1.053}]},"mark":{"type":"point","shape":"triangle-left","filled":true,"color":"black","size":30,"opacity":1},
"encoding":{"x":{"field":"x","type":"quantitative"},"y":{"field":"y","type":"quantitative"}}},
{"data":{"values":[{"x":240.45,"y":1.053}]},"mark":{"type":"point","shape":"triangle-right","filled":true,"color":"black","size":30,"opacity":1},
"encoding":{"x":{"field":"x","type":"quantitative"},"y":{"field":"y","type":"quantitative"}}},
{"data":{"values":[{"x":237.2,"y":1.083,"t":"\"Trap\""}]},"mark":{"type":"text","align":"center","baseline":"alphabetic","fontSize":20,"font":"Liberation Sans","color":"black"},
"encoding":{"x":{"field":"x","type":"quantitative"},"y":{"field":"y","type":"quantitative"},"text":{"field":"t"}}},
{"data":{"values":[{"x":216.0,"y":1.099,"t":"(b)"}]},"mark":{"type":"text","align":"left","baseline":"alphabetic","fontSize":21,"font":"Liberation Sans","color":"black"},
"encoding":{"x":{"field":"x","type":"quantitative"},"y":{"field":"y","type":"quantitative"},"text":{"field":"t"}}}
]}
]
}
